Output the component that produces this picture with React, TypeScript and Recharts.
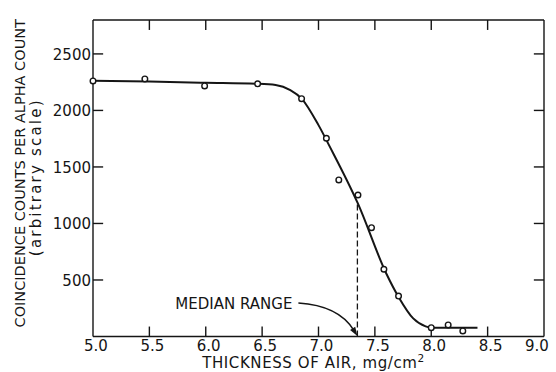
import {
  ComposedChart,
  Line,
  Scatter,
  XAxis,
  YAxis,
  ReferenceLine,
  ReferenceDot,
} from "recharts";

// measured coincidence counts vs. air thickness (mg/cm^2)
const thickness = [5.0, 5.46, 5.99, 6.46, 6.85, 7.07, 7.18, 7.35, 7.47, 7.58, 7.71, 8.0, 8.15, 8.28];
const counts = [2261, 2279, 2217, 2235, 2104, 1754, 1385, 1252, 963, 595, 358, 78, 102, 49];

// smooth curve drawn through the measurements
const fitThickness = [5.0, 5.5, 6.0, 6.45, 6.62, 6.75, 6.85, 7.0, 7.1, 7.35, 7.6, 7.71, 7.84, 7.95, 8.0, 8.41];
const fitCounts = [2262, 2255, 2245, 2236, 2225, 2180, 2105, 1870, 1680, 1175, 560, 350, 160, 90, 78, 78];

const xTicks = [5.0, 5.5, 6.0, 6.5, 7.0, 7.5, 8.0, 8.5, 9.0];
const yTicks = [500, 1000, 1500, 2000, 2500];

const X_MIN = 5;
const X_MAX = 9;
const Y_MAX = 2800;

const MEDIAN_RANGE = 7.345;
const MEDIAN_COUNT = 1185;

const points = thickness.map((x, i) => ({ x, y: counts[i] }));
const curve = fitThickness.map((x, i) => ({ x, y: fitCounts[i] }));
const innerXTicks = xTicks.filter((v) => v > X_MIN && v < X_MAX);

// inward tick length, in axis units (about 10px each way)
const TICK_DX = 0.09;
const TICK_DY = 88;

const INK = "#151515";
const FONT = "'DejaVu Sans', sans-serif";

const BottomTick = (props: any) => {
  const { x, y, payload } = props;
  const v = payload.value;
  // last label is pulled in so it stays inside the frame
  const shift = v >= X_MAX ? -7 : 3;
  return (
    <text x={x + shift} y={y + 14} textAnchor="middle" fontSize={15} fontFamily={FONT} fill={INK}>
      {v.toFixed(1)}
    </text>
  );
};

const LeftTick = (props: any) => {
  const { x, y, payload } = props;
  return (
    <text x={x - 2} y={y + 6} textAnchor="end" fontSize={15} fontFamily={FONT} fill={INK}>
      {payload.value}
    </text>
  );
};

const XTitle = (props: any) => {
  const vb = props.viewBox || { x: 93, y: 336.5, width: 451, height: 35.5 };
  return (
    <text
      x={vb.x + vb.width / 2 - 5}
      y={vb.y + 31}
      textAnchor="middle"
      fontSize={15}
      letterSpacing={0.6}
      fontFamily={FONT}
      fill={INK}
    >
      THICKNESS OF AIR, mg/cm
      <tspan dy={-6} fontSize={10.5}>2</tspan>
    </text>
  );
};

const YTitle = (props: any) => {
  const vb = props.viewBox || { x: 0, y: 20, width: 93, height: 316.5 };
  const cy = vb.y + vb.height / 2;
  return (
    <g fontFamily={FONT} fill={INK} textAnchor="middle">
      <text transform={`translate(${vb.x + 25},${cy - 5}) rotate(-90)`} fontSize={14.5}>
        COINCIDENCE COUNTS PER ALPHA COUNT
      </text>
      <text transform={`translate(${vb.x + 41},${cy - 1}) rotate(-90)`} fontSize={15} letterSpacing={2.2}>
        (arbitrary scale)
      </text>
    </g>
  );
};

// arrow from the caption down to the median-range foot on the axis
const MedianArrow = (props: any) => {
  const { cx, cy } = props;
  const sx = cx - 59;
  const sy = cy - 33.5;
  const qx = cx - 19;
  const qy = cy - 31;
  const tipX = cx;
  const tipY = cy - 0.5;
  const dx = tipX - qx;
  const dy = tipY - qy;
  const len = Math.hypot(dx, dy);
  const ux = dx / len;
  const uy = dy / len;
  const bx = tipX - ux * 9;
  const by = tipY - uy * 9;
  return (
    <g>
      <path
        d={`M${sx},${sy} Q${qx},${qy} ${bx + ux * 2},${by + uy * 2}`}
        fill="none"
        stroke={INK}
        strokeWidth={1.6}
      />
      <path
        d={`M${tipX},${tipY} L${bx - uy * 3},${by + ux * 3} L${bx + uy * 3},${by - ux * 3} Z`}
        fill={INK}
      />
      <text x={sx - 6} y={sy + 5.5} textAnchor="end" fontSize={15} fontFamily={FONT} fill={INK}>
        MEDIAN RANGE
      </text>
    </g>
  );
};

const OpenCircle = (props: any) => (
  <circle cx={props.cx} cy={props.cy} r={2.8} fill="#fff" stroke={INK} strokeWidth={1.4} />
);

export default function App() {
  return (
    <div style={{ position: "absolute", left: 0, top: 0, background: "#fff" }}>
      <ComposedChart width={556} height={372} margin={{ top: 19, right: 11, bottom: 0, left: 0 }}>
        <XAxis
          dataKey="x"
          type="number"
          domain={[X_MIN, X_MAX]}
          ticks={xTicks}
          interval={0}
          height={35.5}
          tickSize={0}
          tickMargin={0}
          tickLine={false}
          tick={<BottomTick />}
          axisLine={{ stroke: INK, strokeWidth: 1.4 }}
          label={<XTitle />}
        />
        <XAxis
          xAxisId="top"
          orientation="top"
          type="number"
          domain={[X_MIN, X_MAX]}
          height={1}
          tick={false}
          tickLine={false}
          axisLine={{ stroke: INK, strokeWidth: 1.4 }}
        />
        <YAxis
          dataKey="y"
          type="number"
          domain={[0, Y_MAX]}
          ticks={yTicks}
          interval={0}
          width={93}
          tickSize={0}
          tickMargin={0}
          tickLine={false}
          tick={<LeftTick />}
          axisLine={{ stroke: INK, strokeWidth: 1.4 }}
          label={<YTitle />}
        />
        <YAxis
          yAxisId="right"
          orientation="right"
          type="number"
          domain={[0, Y_MAX]}
          width={1}
          tick={false}
          tickLine={false}
          axisLine={{ stroke: INK, strokeWidth: 1.4 }}
        />
        {/* inward tick marks on all four sides of the frame */}
        {innerXTicks.map((v) => (
          <ReferenceLine
            key={`b${v}`}
            segment={[{ x: v, y: 0 }, { x: v, y: TICK_DY }]}
            stroke={INK}
            strokeWidth={1.4}
          />
        ))}
        {innerXTicks.map((v) => (
          <ReferenceLine
            key={`t${v}`}
            segment={[{ x: v, y: Y_MAX }, { x: v, y: Y_MAX - TICK_DY }]}
            stroke={INK}
            strokeWidth={1.4}
          />
        ))}
        {yTicks.map((v) => (
          <ReferenceLine
            key={`l${v}`}
            segment={[{ x: X_MIN, y: v }, { x: X_MIN + TICK_DX, y: v }]}
            stroke={INK}
            strokeWidth={1.4}
          />
        ))}
        {yTicks.map((v) => (
          <ReferenceLine
            key={`r${v}`}
            segment={[{ x: X_MAX, y: v }, { x: X_MAX - TICK_DX, y: v }]}
            stroke={INK}
            strokeWidth={1.4}
          />
        ))}
        <ReferenceLine
          segment={[
            { x: MEDIAN_RANGE, y: 0 },
            { x: MEDIAN_RANGE, y: MEDIAN_COUNT },
          ]}
          stroke={INK}
          strokeWidth={1.3}
          strokeDasharray="6 3"
        />
        <Line
          data={curve}
          dataKey="y"
          type="monotone"
          stroke={INK}
          strokeWidth={2}
          dot={false}
          activeDot={false}
          isAnimationActive={false}
        />
        <Scatter data={points} dataKey="y" shape={<OpenCircle />} isAnimationActive={false} />
        <ReferenceDot x={MEDIAN_RANGE} y={0} shape={<MedianArrow />} ifOverflow="visible" />
      </ComposedChart>
    </div>
  );
}
